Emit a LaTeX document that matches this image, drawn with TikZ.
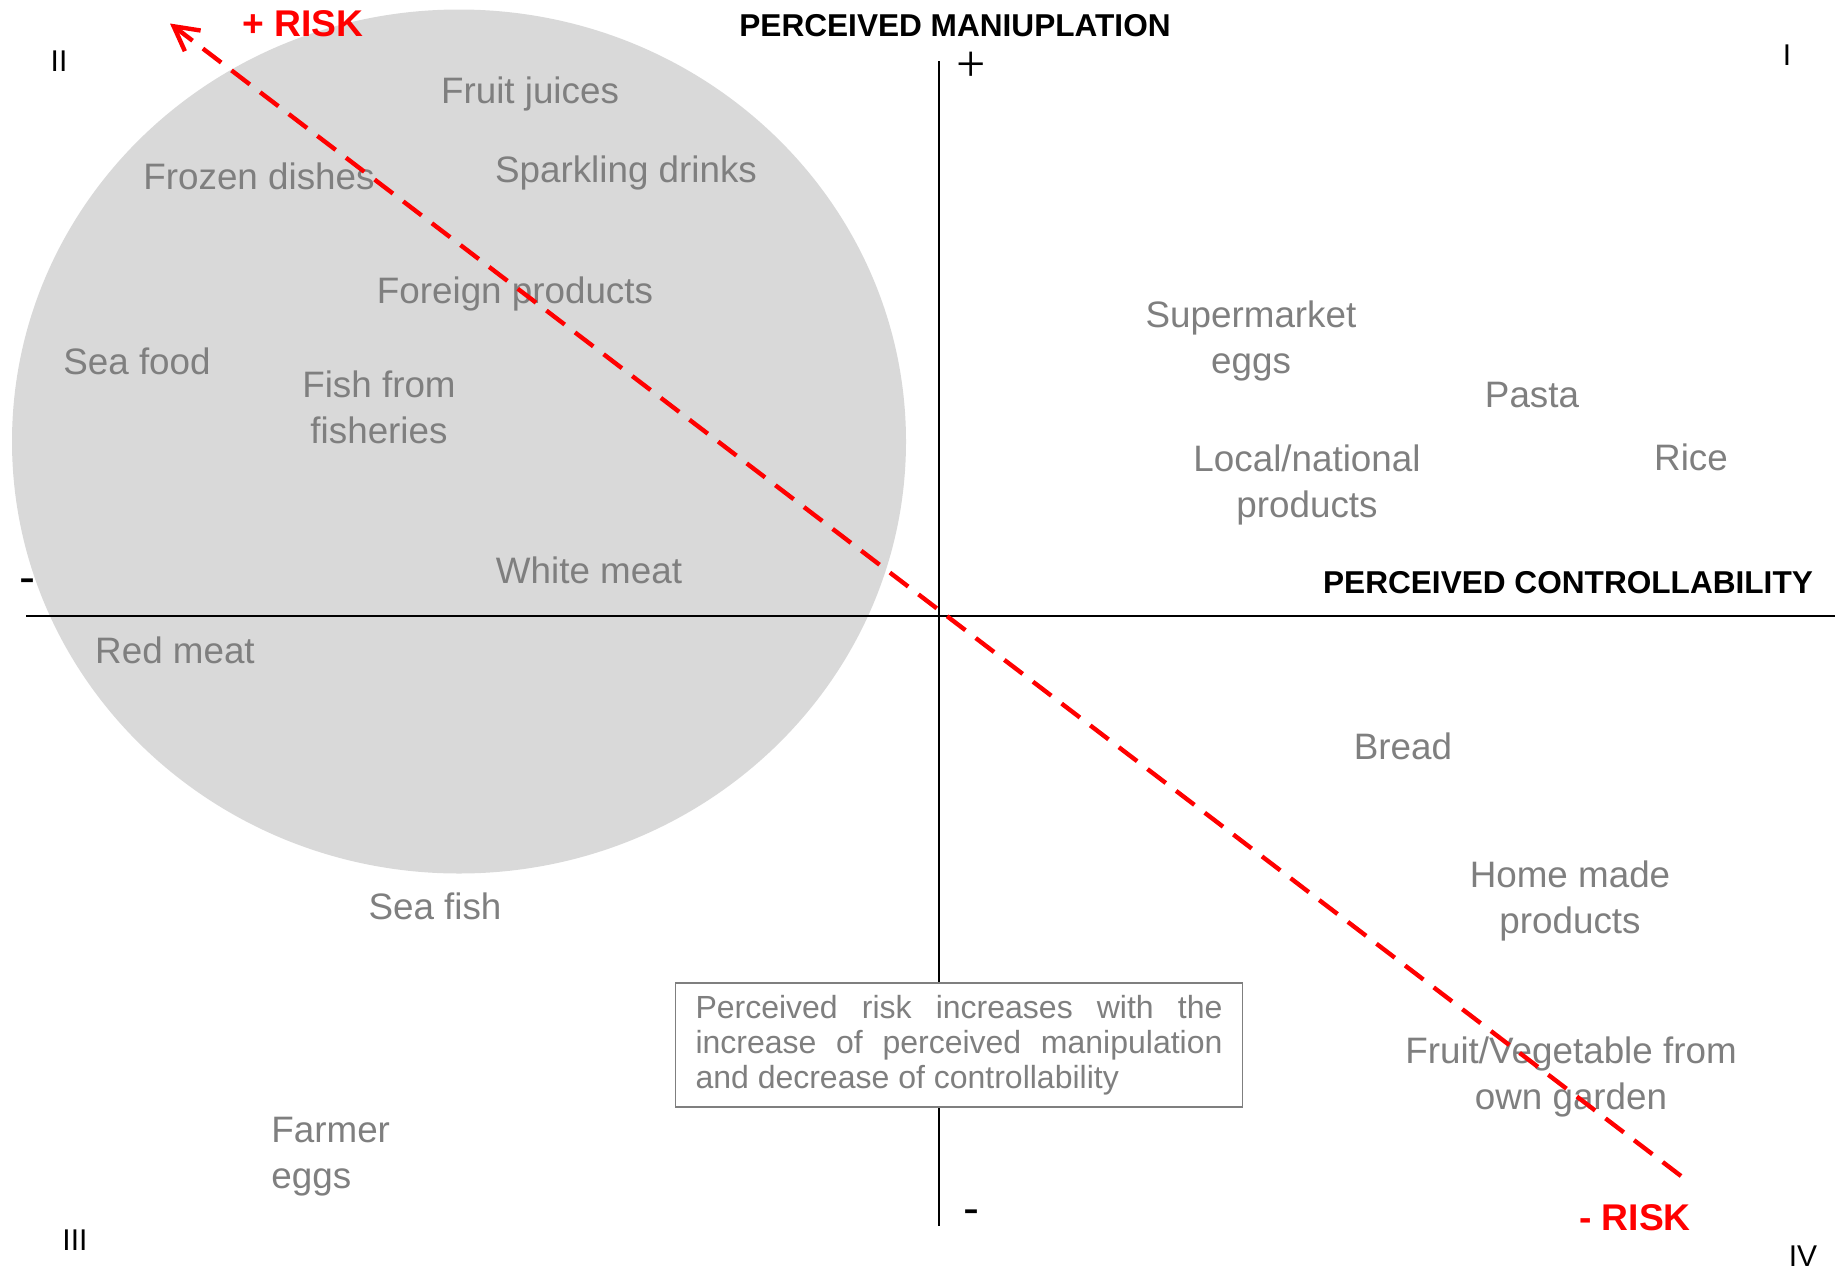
\documentclass[tikz,border=0pt]{standalone}
\usepackage{fontspec}
\setmainfont{Liberation Sans}
\newfontfamily\serifa{Liberation Serif}
\usetikzlibrary{arrows.meta}
\definecolor{rojo}{HTML}{FF0000}
\definecolor{grisclaro}{HTML}{D9D9D9}
\definecolor{gristxt}{HTML}{7F7F7F}

\begin{document}
\begin{tikzpicture}[x=0.5pt, y=-0.5pt,
  alim/.style={text=gristxt, align=center, inner sep=0pt, font=\fontsize{18.4}{22.9}\selectfont},
  titulo/.style={inner sep=0pt, font=\bfseries\fontsize{15.8}{18}\selectfont},
  cuad/.style={inner sep=0pt, font=\fontsize{15}{18}\selectfont},
  signo/.style={inner sep=0pt, font=\fontsize{24}{26}\selectfont},
  riesgo/.style={text=rojo, inner sep=0pt, font=\bfseries\fontsize{18.6}{22}\selectfont},
  eje/.style={black, line width=1pt},
  flecha/.style={-{Straight Barb[length=12pt,width=13pt]}, rojo, line width=2.2pt, dash pattern=on 11.5pt off 6.5pt},
  nota/.style={draw=gristxt, line width=0.8pt, fill=white, text=gristxt, text width=263.5pt, align=justify, inner xsep=10pt, minimum height=62pt, font=\fontsize{16}{17.5}\selectfont}]
\useasboundingbox (0,0) rectangle (1839,1269);
\fill[grisclaro] (459,441.5) ellipse [x radius=447, y radius=432];
% ejes
\coordinate (top) at (939,61); \coordinate (bot) at (939,1226);
\coordinate (izq) at (26,616); \coordinate (der) at (1835,616);
\draw[eje] (top) -- (bot);
\draw[eje] (izq) -- (der);
\node[titulo] (manip) at (955,26) {PERCEIVED MANIUPLATION};
\node[titulo] (contr) at (1568,583) {PERCEIVED CONTROLLABILITY};
\node[signo, font=\serifa\fontsize{26}{28}\selectfont] (mas) at (971,67) {+};
\node[signo] (menos) at (971,1217) {-};
\node[signo] (menosx) at (27,586) {-};
\node[cuad] (q1) at (1787,55) {I};
\node[cuad] (q2) at (59,61) {II};
\node[cuad] (q3) at (75,1240) {III};
\node[cuad] (q4) at (1803,1256) {IV};
% alimentos
\node[alim] (jugos) at (530,94) {Fruit juices};
\node[alim] (gaseosas) at (626,173) {Sparkling drinks};
\node[alim] (congel) at (259,176) {Frozen dishes};
\node[alim] (extranj) at (515,294) {Foreign products};
\node[alim] (mariscos) at (137,361) {Sea food};
\node[alim] (criadero) at (379,407) {Fish from\\fisheries};
\node[alim] (blanca) at (589,570) {White meat};
\node[alim] (roja) at (175,650) {Red meat};
\node[alim] (pescado) at (435,906) {Sea fish};
\node[alim, align=left, anchor=west] (granja) at (271,1157) {Farmer\\eggs};
\node[alim] (super) at (1251,341) {Supermarket\\eggs};
\node[alim] (pasta) at (1532,395) {Pasta};
\node[alim] (local) at (1307,485) {Local/national\\products};
\node[alim] (arroz) at (1691,457) {Rice};
\node[alim] (pan) at (1403,746) {Bread};
\node[alim] (casero) at (1570,901) {Home made\\products};
\node[alim] (huerta) at (1571,1077) {Fruit/Vegetable from\\own garden};
\node[nota] (nota) at (959,1045) {Perceived risk increases with the\linebreak increase of perceived manipulation\linebreak and decrease of controllability};
% riesgo
\coordinate (rbajo) at (1681,1176); \coordinate (ralto) at (170,23.5);
\draw[flecha] (rbajo) -- (ralto);
\node[riesgo] (masr) at (303,23.5) {+ RISK};
\node[riesgo] (menosr) at (1635,1218) {- RISK};
\end{tikzpicture}
\end{document}
